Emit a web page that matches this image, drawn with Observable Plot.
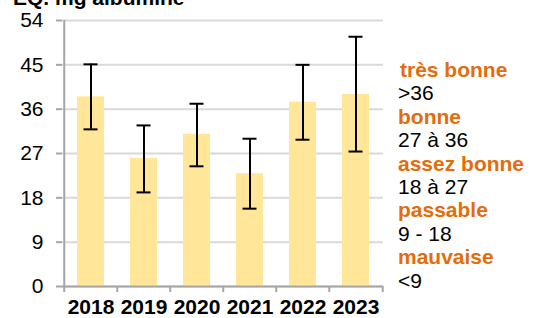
<!DOCTYPE html>
<html>
<head>
<meta charset="utf-8">
<script src="https://cdn.jsdelivr.net/npm/d3@7"></script>
<script src="https://cdn.jsdelivr.net/npm/@observablehq/plot@0.6"></script>
<style>
  body { margin: 0; background: #fff; font-family: "Liberation Sans", Arial, sans-serif; }
  #wrap { position: relative; width: 534px; height: 318px; overflow: hidden; }
  #title { position: absolute; left: 13px; top: -14.5px; font-size: 21px; font-weight: bold; color: #000; white-space: nowrap; }
  #legend { position: absolute; left: 398px; top: 58px; font-size: 21px; line-height: 23.4px; white-space: nowrap; }
  #legend .q { color: #E46C0A; font-weight: bold; }
  #legend .r { color: #000; }
</style>
</head>
<body>
<div id="wrap">
  <div id="chart"></div>
  <div id="title">EQ. mg albumine</div>
  <div id="legend"></div>
</div>
<script>
const years = ["2018", "2019", "2020", "2021", "2022", "2023"];
const means = [38.5, 26.0, 30.9, 22.9, 37.4, 39.0];
const lows  = [31.9, 19.1, 24.4, 15.8, 29.8, 27.4];
const highs = [45.1, 32.7, 37.1, 30.0, 45.0, 50.7];
const yTicks = [0, 9, 18, 27, 36, 45, 54];
const classes = ["très bonne", "bonne", "assez bonne", "passable", "mauvaise"];
const ranges = [">36", "27 à 36", "18 à 27", "9 - 18", "<9"];

const data = years.map((y, i) => ({year: y, mean: means[i], lo: lows[i], hi: highs[i]}));

const bw = 321 / 6 / 2; // half band step for boundary ticks

const chart = Plot.plot({
  width: 534,
  height: 318,
  marginTop: 20,
  marginBottom: 32,
  marginLeft: 62,
  marginRight: 151,
  style: { fontFamily: "'Liberation Sans', Arial, sans-serif", fontSize: "21px", background: "#fff" },
  x: { type: "band", domain: years, paddingInner: 0.5, paddingOuter: 0.25, align: 0.5, label: null },
  y: { domain: [0, 54], label: null },
  marks: [
    Plot.gridY(yTicks, { stroke: "#d9d9d9", strokeOpacity: 1, strokeWidth: 2 }),
    Plot.barY(data, { x: "year", y: "mean", fill: "#FFE699" }),
    Plot.ruleX(data, { x: "year", y1: "lo", y2: "hi", stroke: "#000", strokeWidth: 2 }),
    Plot.tickY(data, { x: "year", y: "hi", stroke: "#000", strokeWidth: 2, insetLeft: 20.5, insetRight: 20.5 }),
    Plot.tickY(data, { x: "year", y: "lo", stroke: "#000", strokeWidth: 2, insetLeft: 20.5, insetRight: 20.5 }),
    Plot.ruleY([0], { stroke: "#a6a6a6", strokeWidth: 2 }),
    Plot.ruleX([years[0]], { x: d => d, dx: -bw, stroke: "#a6a6a6", strokeWidth: 2 }),
    Plot.ruleX(years, { x: d => d, dx: -bw, y1: 0, y2: 0, insetBottom: -6, stroke: "#a6a6a6", strokeWidth: 2 }),
    Plot.ruleX([years[years.length - 1]], { x: d => d, dx: bw, y1: 0, y2: 0, insetBottom: -6, stroke: "#a6a6a6", strokeWidth: 2 }),
    Plot.axisY({ ticks: yTicks, tickSize: 6, tickPadding: 13, stroke: "#a6a6a6", strokeWidth: 2, fill: "#000", fontSize: 21 }),
    Plot.axisX({ tickSize: 0, tickPadding: 13, fontWeight: "bold", fill: "#000", fontSize: 21 })
  ]
});
document.getElementById("chart").appendChild(chart);

const legend = document.getElementById("legend");
classes.forEach((c, i) => {
  const a = document.createElement("div"); a.className = "q"; a.textContent = c;
  if (i === 0) a.style.paddingLeft = "2px";
  const b = document.createElement("div"); b.className = "r"; b.textContent = ranges[i];
  legend.appendChild(a); legend.appendChild(b);
});
</script>
</body>
</html>
